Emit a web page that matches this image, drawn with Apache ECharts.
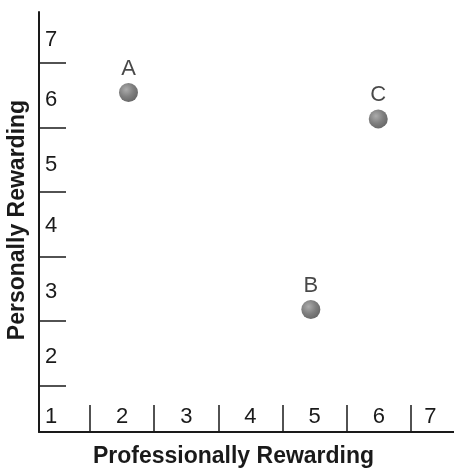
<!DOCTYPE html>
<html>
<head>
<meta charset="utf-8">
<script src="https://cdn.jsdelivr.net/npm/echarts@6/dist/echarts.min.js"></script>
<style>
html,body{margin:0;padding:0;background:#fff;}
#chart{width:454px;height:468px;}
</style>
</head>
<body>
<div id="chart"></div>
<script>
// Data
var pointNames = ['A', 'B', 'C'];
var professionallyRewarding = [2.1, 4.94, 5.99];
var personallyRewarding = [6.04, 2.68, 5.63];
var xTickLabels = ['1', '2', '3', '4', '5', '6', '7'];
var yTickLabels = ['2', '3', '4', '5', '6', '7'];
var xAxisTitle = 'Professionally Rewarding';
var yAxisTitle = 'Personally Rewarding';

var FONT = "'Liberation Sans', Arial, Helvetica, sans-serif";
var INK = '#1a1a1a';

var chart = echarts.init(document.getElementById('chart'), null, {renderer: 'canvas'});

var seriesData = pointNames.map(function (n, i) {
  return {name: n, value: [professionallyRewarding[i], personallyRewarding[i]]};
});

var option = {
  animation: false,
  backgroundColor: '#fff',
  grid: {left: 39, right: 0, top: 12, bottom: 36, containLabel: false, outerBoundsMode: 'none'},
  xAxis: {
    type: 'value',
    min: 0.706,
    max: 7.17,
    name: xAxisTitle,
    nameLocation: 'middle',
    nameGap: 13,
    nameMoveOverlap: false,
    nameTextStyle: {fontFamily: FONT, fontSize: 23, fontWeight: 'bold', color: INK, padding: [0, 26, 0, 0]},
    axisLine: {show: true, onZero: false, lineStyle: {color: INK, width: 2}},
    axisTick: {show: true, inside: true, length: 27, customValues: [1.5, 2.5, 3.5, 4.5, 5.5, 6.5], lineStyle: {color: INK, width: 1.5}},
    axisLabel: {
      show: true, inside: true, margin: 4,
      customValues: [0.893, 2, 3, 4, 5, 6, 6.8],
      formatter: function (v) { return xTickLabels[Math.round(v) - 1]; },
      fontFamily: FONT, fontSize: 22, color: INK
    },
    splitLine: {show: false}
  },
  yAxis: {
    type: 'value',
    min: 0.783,
    max: 7.285,
    name: yAxisTitle,
    nameLocation: 'middle',
    nameGap: 10,
    nameRotate: 90,
    nameMoveOverlap: false,
    nameTextStyle: {fontFamily: FONT, fontSize: 23, fontWeight: 'bold', color: INK, padding: [0, 0, 0, 4]},
    axisLine: {show: true, onZero: false, lineStyle: {color: INK, width: 2}},
    axisTick: {show: true, inside: true, length: 27, customValues: [1.5, 2.5, 3.5, 4.5, 5.5, 6.5], lineStyle: {color: INK, width: 1.5}},
    axisLabel: {
      show: true, inside: true, margin: 6,
      customValues: [1.95, 2.95, 3.97, 4.92, 5.92, 6.85],
      formatter: function (v) { return yTickLabels[Math.round(v) - 2]; },
      fontFamily: FONT, fontSize: 22, color: INK
    },
    splitLine: {show: false}
  },
  series: [{
    type: 'scatter',
    symbol: 'circle',
    symbolSize: 19,
    data: seriesData,
    itemStyle: {
      color: new echarts.graphic.RadialGradient(0.38, 0.35, 0.7, [
        {offset: 0, color: '#979797'},
        {offset: 0.55, color: '#5f5f5f'},
        {offset: 1, color: '#404040'}
      ])
    },
    label: {
      show: true,
      position: 'top',
      distance: 3,
      formatter: '{b}',
      fontFamily: FONT, fontSize: 22, color: INK
    }
  }]
};
chart.setOption(option);
</script>
</body>
</html>
